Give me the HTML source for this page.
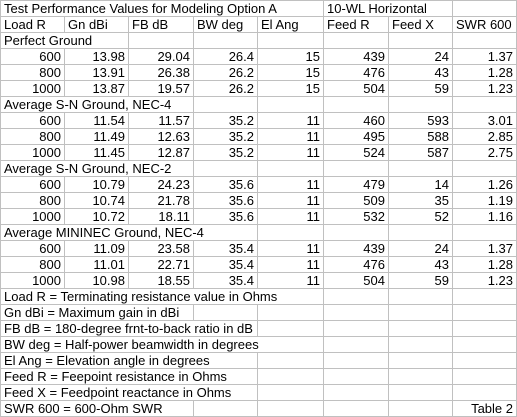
<!DOCTYPE html>
<html><head><meta charset="utf-8"><style>
html,body{margin:0;padding:0;background:#fff;}
#t{position:relative;width:517px;height:417px;overflow:hidden;font-family:"Liberation Sans",Arial,sans-serif;font-size:13px;color:#000;}
.c{position:absolute;box-sizing:border-box;height:17px;border:1px solid #c0c0c0;line-height:15px;padding:0 3px;white-space:nowrap;overflow:hidden;}
.r{text-align:right;}
</style></head><body>
<div id="t"></div>
<script>
const colX=[0,64,128,193,257,323,388,452,516];
const rows=[
 [[5,"Test Performance Values for Modeling Option A","l"],[2,"10-WL Horizontal","l"],[1,"","l"]],
 [[1,"Load R","l"],[1,"Gn dBi","l"],[1,"FB dB","l"],[1,"BW deg","l"],[1,"El Ang","l"],[1,"Feed R","l"],[1,"Feed X","l"],[1,"SWR 600","l"]],
 [[2,"Perfect Ground","l"],[1,""],[1,""],[1,""],[1,""],[1,""],[1,""]],
 "600,13.98,29.04,26.4,15,439,24,1.37",
 "800,13.91,26.38,26.2,15,476,43,1.28",
 "1000,13.87,19.57,26.2,15,504,59,1.23",
 [[3,"Average S-N Ground, NEC-4","l"],[1,""],[1,""],[1,""],[1,""],[1,""]],
 "600,11.54,11.57,35.2,11,460,593,3.01",
 "800,11.49,12.63,35.2,11,495,588,2.85",
 "1000,11.45,12.87,35.2,11,524,587,2.75",
 [[3,"Average S-N Ground, NEC-2","l"],[1,""],[1,""],[1,""],[1,""],[1,""]],
 "600,10.79,24.23,35.6,11,479,14,1.26",
 "800,10.74,21.78,35.6,11,509,35,1.19",
 "1000,10.72,18.11,35.6,11,532,52,1.16",
 [[4,"Average MININEC Ground, NEC-4","l"],[1,""],[1,""],[1,""],[1,""]],
 "600,11.09,23.58,35.4,11,439,24,1.37",
 "800,11.01,22.71,35.4,11,476,43,1.28",
 "1000,10.98,18.55,35.4,11,504,59,1.23",
 [[5,"Load R = Terminating resistance value in Ohms","l"],[1,""],[1,""],[1,""]],
 [[3,"Gn dBi = Maximum gain in dBi","l"],[1,""],[1,""],[1,""],[1,""],[1,""]],
 [[4,"FB dB = 180-degree frnt-to-back ratio in dB","l"],[1,""],[1,""],[1,""],[1,""]],
 [[5,"BW deg = Half-power beamwidth in degrees","l"],[1,""],[1,""],[1,""]],
 [[4,"El Ang = Elevation angle in degrees","l"],[1,""],[1,""],[1,""],[1,""]],
 [[4,"Feed R = Feepoint resistance in Ohms","l"],[1,""],[1,""],[1,""],[1,""]],
 [[4,"Feed X = Feedpoint reactance in Ohms","l"],[1,""],[1,""],[1,""],[1,""]],
 [[3,"SWR 600 = 600-Ohm SWR","l"],[1,""],[1,""],[1,""],[1,""],[1,"Table 2","r"]]
];
const t=document.getElementById('t');
rows.forEach((row,ri)=>{
  let cells=typeof row==="string"?row.split(",").map(v=>[1,v,"r"]):row;
  let ci=0;
  cells.forEach(cell=>{
    const d=document.createElement('div');
    d.className='c'+(cell[2]==="r"?' r':'');
    d.style.left=colX[ci]+'px';
    d.style.top=(ri*16)+'px';
    d.style.width=(colX[ci+cell[0]]-colX[ci]+1)+'px';
    d.textContent=cell[1];
    
    
    t.appendChild(d);
    ci+=cell[0];
  });
});
</script>
</body></html>
